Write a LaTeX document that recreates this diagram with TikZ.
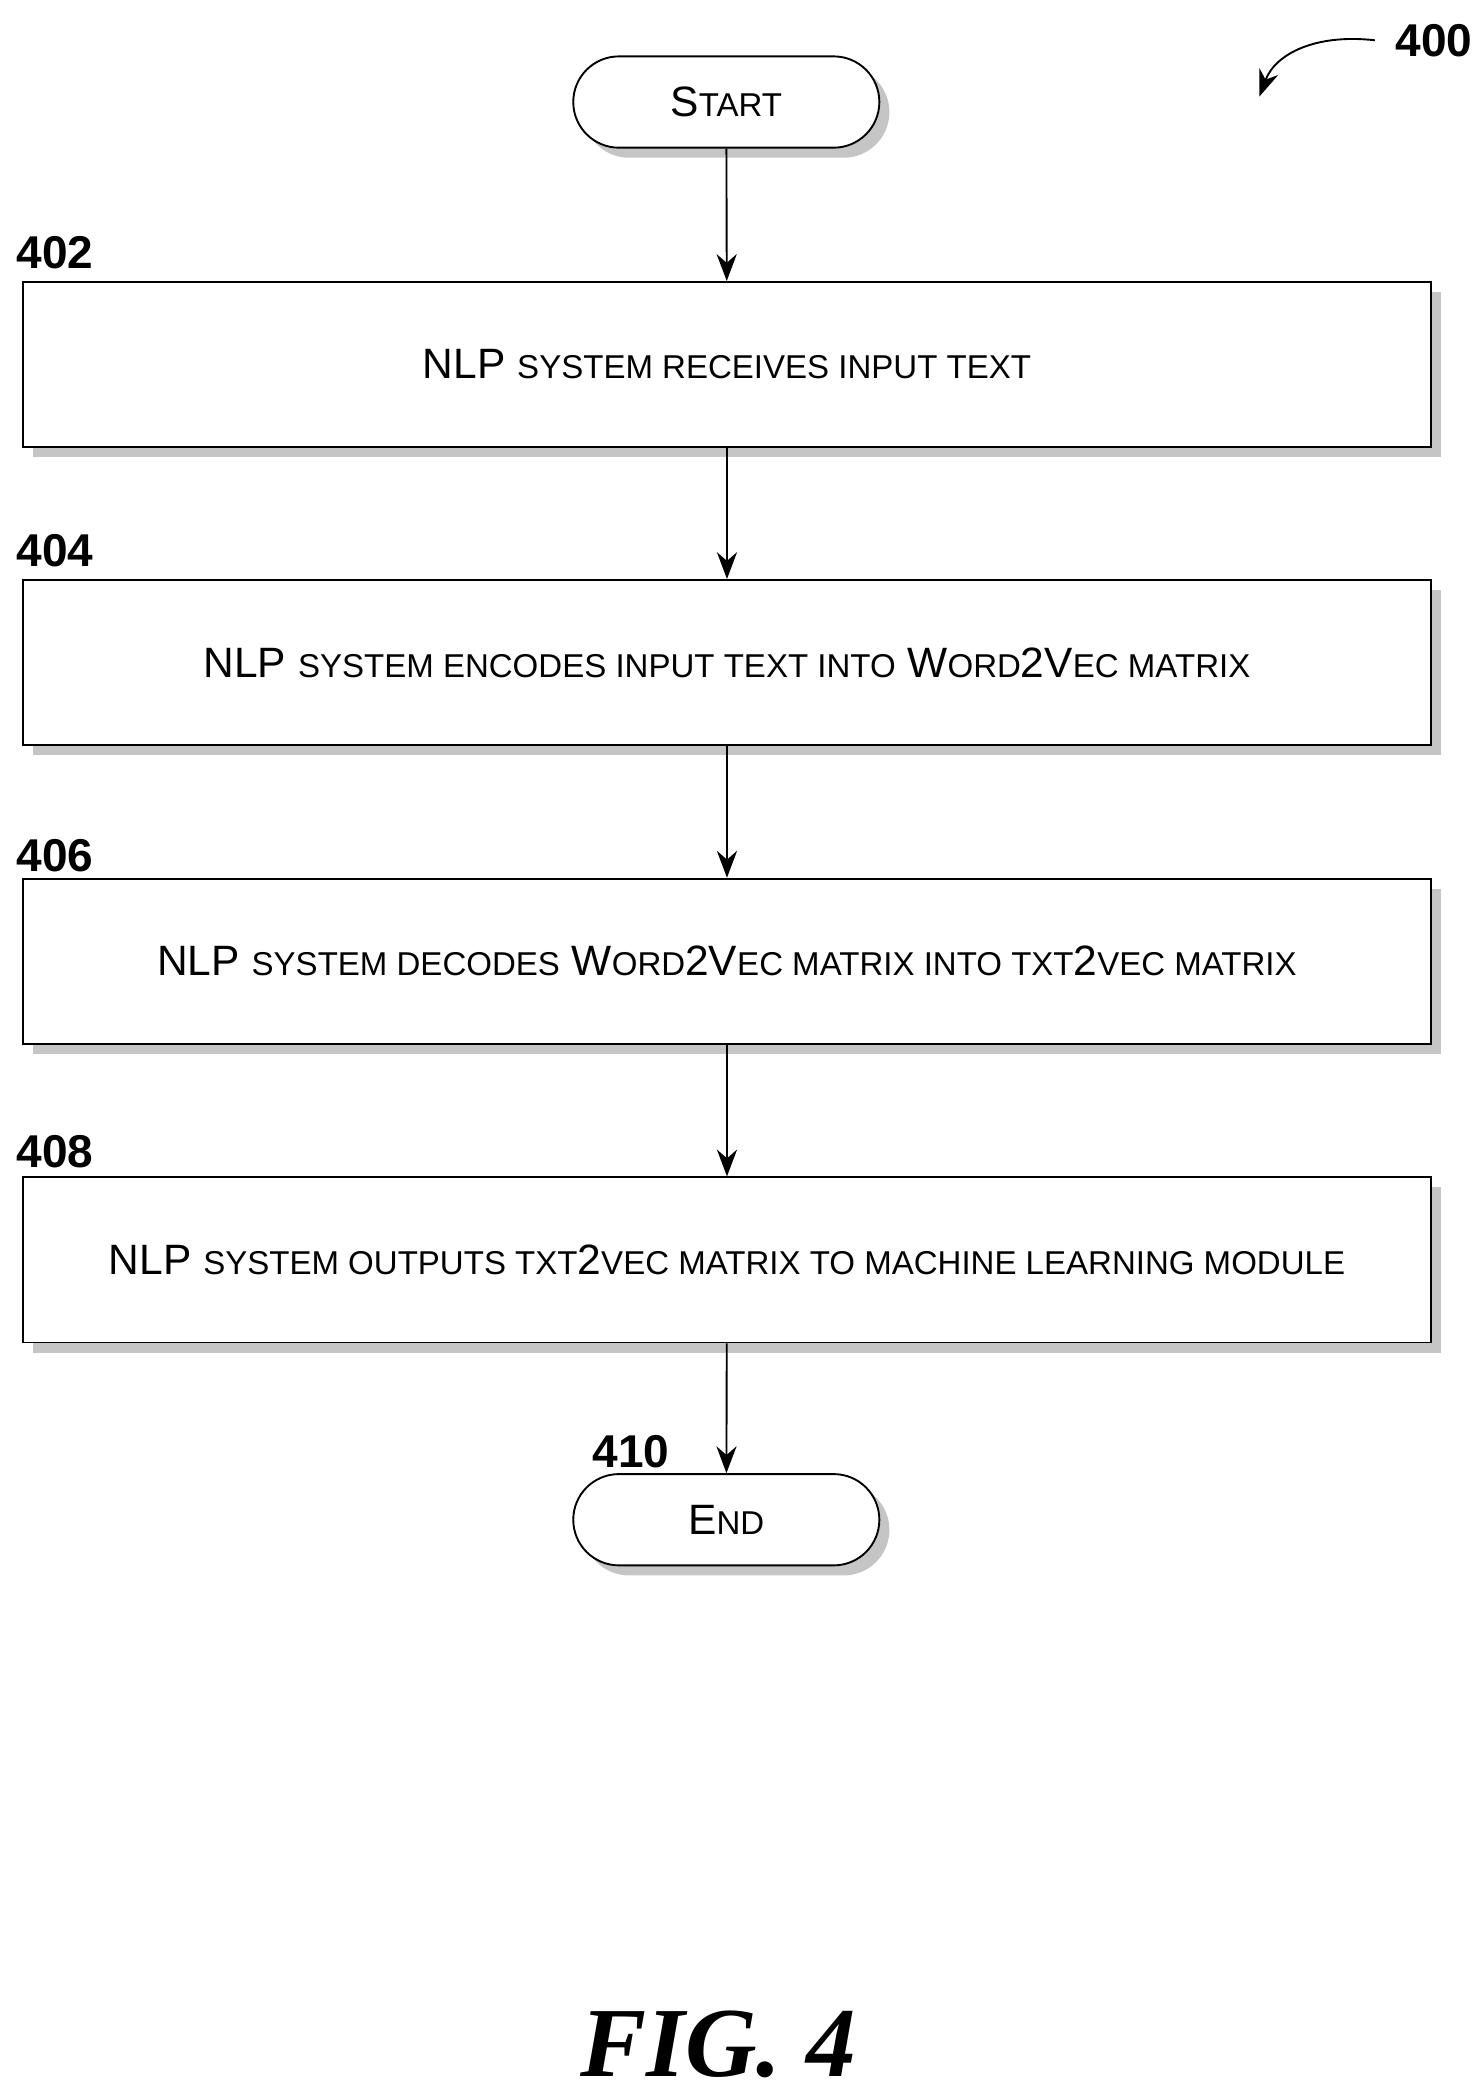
\documentclass[tikz,border=0pt]{standalone}
\usepackage{fontspec}
\setmainfont{Liberation Sans}
\newfontfamily\figfont{Liberation Serif}
\usetikzlibrary{positioning,shadows,arrows.meta}
\tikzset{
  step box/.style={rectangle,draw,thick,fill=white,minimum width=20.98cm,minimum height=2.46cm,inner sep=0pt,
    drop shadow={shadow xshift=1.5mm,shadow yshift=-1.5mm,fill=black!45}},
  term node/.style={rectangle,rounded corners=0.68cm,draw,thick,fill=white,minimum width=4.56cm,minimum height=1.36cm,inner sep=0pt,
    drop shadow={shadow xshift=1.5mm,shadow yshift=-1.5mm,fill=black!45}},
  ref label/.style={font=\fontsize{19.5}{22}\selectfont\bfseries,inner sep=0pt},
  flow/.style={thick,-{Stealth[length=4mm,width=3mm]}},
}
\newcommand{\bigc}[1]{{\fontsize{18}{21}\selectfont #1}}
\newcommand{\smc}[1]{{\fontsize{14}{17}\selectfont #1}}
\begin{document}
\begin{tikzpicture}[font=\fontsize{18}{21}\selectfont]
\useasboundingbox (0,0) rectangle (22.1,-31.24);

\node[term node] (start) at (10.82,-1.52) {\bigc{S}\smc{TART}};
\node[step box] (s402) at (10.83,-5.43) {\bigc{NLP} \smc{SYSTEM RECEIVES INPUT TEXT}};
\node[step box] (s404) at (10.83,-9.87) {\bigc{NLP} \smc{SYSTEM ENCODES INPUT TEXT INTO} \bigc{W}\smc{ORD}\bigc{2V}\smc{EC MATRIX}};
\node[step box] (s406) at (10.83,-14.32) {\bigc{NLP} \smc{SYSTEM DECODES} \bigc{W}\smc{ORD}\bigc{2V}\smc{EC MATRIX INTO TXT}\bigc{2}\smc{VEC MATRIX}};
\node[step box] (s408) at (10.83,-18.77) {\bigc{NLP} \smc{SYSTEM OUTPUTS TXT}\bigc{2}\smc{VEC MATRIX TO MACHINE LEARNING MODULE}};
\node[term node] (end) at (10.82,-22.64) {\bigc{E}\smc{ND}};

% reference numerals
\node[ref label] (n402) at (0.82,-3.76) {402};
\node[ref label] (n404) at (0.82,-8.2) {404};
\node[ref label] (n406) at (0.82,-12.74) {406};
\node[ref label] (n408) at (0.82,-17.16) {408};
\node[ref label] (n410) at (9.4,-21.62) {410};
\node[ref label] (n400) at (21.36,-0.6) {400};
\coordinate (tip400) at (18.76,-1.44);

\draw[flow] (start) -- (s402);
\draw[flow] (s402) -- (s404);
\draw[flow] (s404) -- (s406);
\draw[flow] (s406) -- (s408);
\draw[flow] (s408) -- (end);
\draw[flow] (n400.west) ++(-0.3,0) .. controls (19.6,-0.5) and (19.0,-0.8) .. (tip400);

\node[font=\figfont\fontsize{42}{45}\selectfont\bfseries\itshape] (fig) at (10.7,-30.45) {FIG. 4};
\end{tikzpicture}
\end{document}
